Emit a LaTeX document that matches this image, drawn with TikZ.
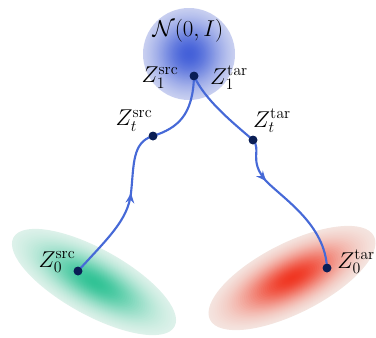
\documentclass[tikz,border=0pt]{standalone}
\usetikzlibrary{arrows.meta,decorations.markings}
\definecolor{lineblue}{RGB}{70,105,215}
\definecolor{dotblue}{RGB}{10,30,85}
\definecolor{gcore}{RGB}{50,195,150}
\definecolor{gedge}{RGB}{238,246,242}
\definecolor{rcore}{RGB}{240,55,35}
\definecolor{redge}{RGB}{244,242,238}
\definecolor{bcore}{RGB}{60,90,215}
\definecolor{bedge}{RGB}{226,229,245}
\begin{document}
\begin{tikzpicture}[x=0.0265cm,y=-0.0265cm,
  dot/.style={circle,fill=dotblue,inner sep=0pt,minimum size=6.5pt},
  flow/.style={lineblue,line width=1.6pt,line cap=round},
  lab/.style={font=\fontsize{17.5}{20}\selectfont,inner sep=0pt},
  endarrow/.style={decoration={markings,mark=at position 1 with {\arrow{Stealth[length=7.5pt,width=6.5pt,inset=2.5pt]}}},postaction={decorate}}]
\useasboundingbox (0,0) rectangle (376,337);
% blue gaussian
\foreach \i in {40,...,1}{
  \pgfmathsetmacro\p{95*exp(-1.8*(\i/40)^2)}
  \fill[bcore!\p!bedge] (189,54) circle[radius=46*\i/40];
}
% green gaussian
\begin{scope}[shift={(94,282)},rotate=-29]
\foreach \i in {40,...,1}{
  \pgfmathsetmacro\p{100*exp(-2.4*(\i/40)^2)}
  \fill[gcore!\p!gedge] (0,0) ellipse[x radius=92*\i/40, y radius=33*\i/40];
}
\end{scope}
% red gaussian
\begin{scope}[shift={(292,278)},rotate=27]
\foreach \i in {40,...,1}{
  \pgfmathsetmacro\p{100*exp(-2.6*(\i/40)^2)}
  \fill[rcore!\p!redge] (0,0) ellipse[x radius=92*\i/40, y radius=35*\i/40];
}
\end{scope}
% points
\node[dot] (z1) at (194,76) {};
\node[dot] (zts) at (153,136) {};
\node[dot] (ztt) at (253,140) {};
\node[dot] (z0s) at (78,271) {};
\node[dot] (z0t) at (327,268) {};
\coordinate (a1) at (131,193);
\coordinate (a2) at (266,181);
% flows
\draw[flow,endarrow] (z0s.center) .. controls (108,238) and (128,220) .. (a1);
\draw[flow] (a1) .. controls (134,165) and (132,142) .. (zts.center);
\draw[flow] (zts.center) .. controls (178,128) and (193,115) .. (z1.center);
\draw[flow] (z1.center) .. controls (205,100) and (232,122) .. (ztt.center);
\draw[flow,endarrow] (ztt.center) .. controls (262,150) and (248,160) .. (a2);
\draw[flow] (a2) .. controls (285,200) and (325,225) .. (z0t.center);
% redraw dots on top
\node[dot] at (z1) {};
\node[dot] at (zts) {};
\node[dot] at (ztt) {};
\node[dot] at (z0s) {};
\node[dot] at (z0t) {};
% labels
\node[lab] (ln) at (188,31) {$\mathcal{N}(0,I)$};
\node[lab] (l1s) at (160,78) {$Z_1^{\mathrm{src}}$};
\node[lab] (l1t) at (229,78) {$Z_1^{\mathrm{tar}}$};
\node[lab] (lts) at (134,121) {$Z_t^{\mathrm{src}}$};
\node[lab] (ltt) at (272,121) {$Z_t^{\mathrm{tar}}$};
\node[lab] (l0s) at (57,262) {$Z_0^{\mathrm{src}}$};
\node[lab,anchor=west] (l0t) at (337,262) {$Z_0^{\mathrm{tar}}$};
\end{tikzpicture}
\end{document}
